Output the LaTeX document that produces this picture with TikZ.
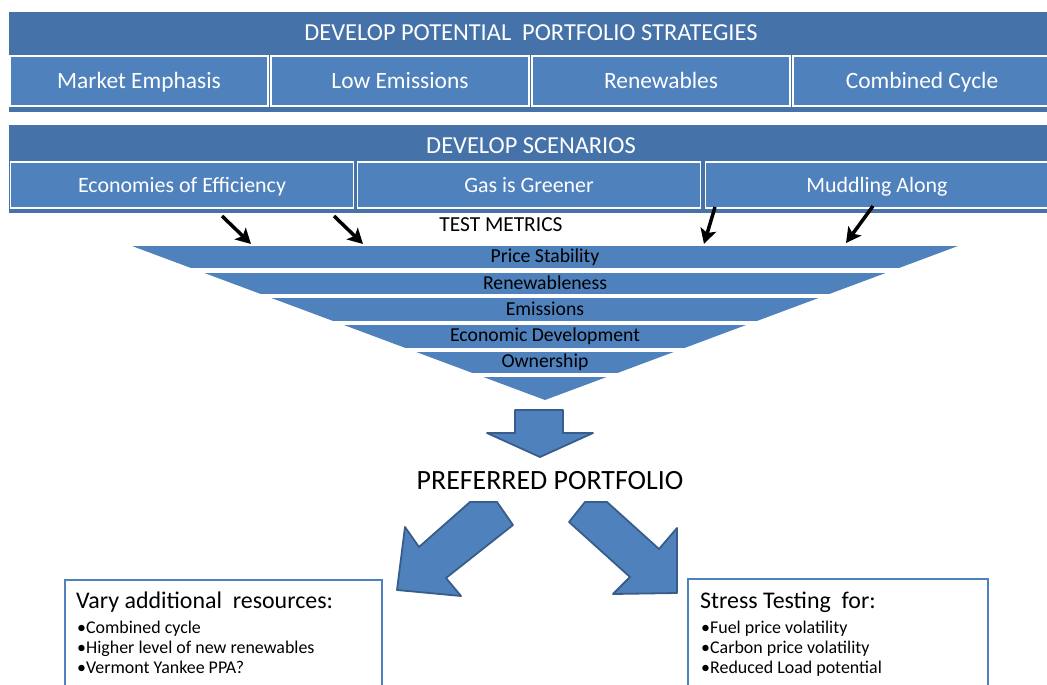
\documentclass[tikz,border=0pt]{standalone}
\usepackage{fontspec}
\setmainfont{Carlito}
\usepackage{tikz}
\usetikzlibrary{arrows.meta}
\definecolor{HdrBlue}{RGB}{70,114,170}
\definecolor{BoxBlue}{RGB}{79,129,189}
\definecolor{EdgeBlue}{RGB}{56,93,138}

\begin{document}
\begin{tikzpicture}[>={Stealth[length=15bp,width=16bp,inset=3.5bp]},
	hdr/.style={text=white,inner sep=0pt,font=\fontsize{24.5}{29}\selectfont},
	strat/.style={draw=white,line width=1.5bp,fill=BoxBlue,text=white,inner sep=0pt,
		text height=17bp,text depth=3bp,
		minimum width=258bp,minimum height=50bp,font=\fontsize{23.5}{28}\selectfont},
	scen/.style={strat,minimum width=343bp,minimum height=46bp,font=\fontsize{22}{26}\selectfont},
	metric/.style={inner sep=0pt,font=\fontsize{19.8}{23}\selectfont},
	feed/.style={->,line width=3.5bp},
	fat/.style={fill=BoxBlue,draw=EdgeBlue,line width=1.8bp,line join=round},
	outbox/.style={draw=BoxBlue,line width=2.2bp},
	boxhead/.style={anchor=base west,inner sep=0pt,font=\fontsize{24}{28}\selectfont},
	bullet/.style={anchor=base west,inner sep=0pt,font=\fontsize{18}{21}\selectfont}]
	\useasboundingbox (0bp,0bp) rectangle (1047bp,-685bp);
	\clip (0bp,0bp) rectangle (1047bp,-685bp);

	\fill[HdrBlue] (9bp,-12bp) rectangle (1060bp,-112bp);
	\node[hdr]   (PPS) at (531bp,-33bp)  {DEVELOP POTENTIAL\hspace{0.45em}PORTFOLIO STRATEGIES};
	\node[strat] (ME)  at (139bp,-81bp)  {Market Emphasis};
	\node[strat] (LE)  at (400bp,-81bp)  {Low Emissions};
	\node[strat] (RE)  at (661bp,-81bp)  {Renewables};
	\node[strat] (CC)  at (922bp,-81bp)  {Combined Cycle};

	\fill[HdrBlue] (9bp,-125bp) rectangle (1060bp,-213bp);
	\node[hdr]   (DS)  at (531bp,-146bp) {DEVELOP SCENARIOS};
	\node[scen]  (EoE) at (182bp,-185bp) {Economies of Efficiency};
	\node[scen]  (GiG) at (529bp,-185bp) {Gas is Greener};
	\node[scen]  (MA)  at (877bp,-185bp) {Muddling Along};

	\node[metric,font=\fontsize{21.5}{25}\selectfont] (TM) at (501bp,-225bp) {TEST METRICS};

	\fill[BoxBlue] (132bp,-246bp) -- (958bp,-246bp) -- (545bp,-400bp) -- cycle;
	\fill[white] (100bp,-268bp) rectangle (1000bp,-273bp);
	\fill[white] (100bp,-294bp) rectangle (1000bp,-298bp);
	\fill[white] (100bp,-321bp) rectangle (1000bp,-325bp);
	\fill[white] (100bp,-348bp) rectangle (1000bp,-352bp);
	\fill[white] (100bp,-373bp) rectangle (1000bp,-377bp);
	\node[metric] (PS) at (545bp,-257bp) {Price Stability};
	\node[metric] (RN) at (545bp,-283bp) {Renewableness};
	\node[metric] (EM) at (545bp,-309bp) {Emissions};
	\node[metric] (ED) at (545bp,-336bp) {Economic Development};
	\node[metric] (OW) at (545bp,-362bp) {Ownership};

	\coordinate (F1a) at (222bp,-216bp);
	\coordinate (F1b) at (251bp,-244bp);
	\coordinate (F2a) at (334bp,-216bp);
	\coordinate (F2b) at (363bp,-244bp);
	\coordinate (F3a) at (715bp,-207bp);
	\coordinate (F3b) at (704bp,-244bp);
	\coordinate (F4a) at (873bp,-206bp);
	\coordinate (F4b) at (846bp,-243bp);
	\draw[feed] (F1a) -- (F1b);
	\draw[feed] (F2a) -- (F2b);
	\draw[feed] (F3a) -- (F3b);
	\draw[feed] (F4a) -- (F4b);

	\draw[fat] (515bp,-410bp) -- (563bp,-410bp) -- (563bp,-433bp) -- (593bp,-433bp)
		-- (540bp,-457bp) -- (487bp,-433bp) -- (515bp,-433bp) -- cycle;
	\node[inner sep=0pt,font=\fontsize{28}{33}\selectfont] (PP) at (550bp,-481bp) {PREFERRED PORTFOLIO};
	\draw[fat] (470bp,-502bp) -- (497bp,-502bp) -- (513bp,-525bp) -- (446bp,-578bp)
		-- (461bp,-596bp) -- (397bp,-590bp) -- (405bp,-527bp) -- (419bp,-547bp) -- cycle;
	\draw[fat] (569bp,-522bp) -- (585bp,-502bp) -- (607bp,-502bp) -- (659bp,-549bp)
		-- (677bp,-528bp) -- (677bp,-593bp) -- (613bp,-594bp) -- (630bp,-577bp) -- cycle;

	\draw[outbox] (65bp,-580bp) rectangle (382bp,-720bp);
	\node[boxhead] (VAR) at (76bp,-608bp) {Vary additional\ \ resources:};
	\node[bullet]  (V1)  at (77bp,-633.5bp) {•Combined cycle};
	\node[bullet]  (V2)  at (77bp,-653.5bp) {•Higher level of new renewables};
	\node[bullet]  (V3)  at (77bp,-673bp)   {•Vermont Yankee PPA?};

	\draw[outbox] (688bp,-579bp) rectangle (988bp,-720bp);
	\node[boxhead] (STR) at (700bp,-608bp) {Stress Testing\ \ for:};
	\node[bullet]  (S1)  at (701bp,-633.5bp) {•Fuel price volatility};
	\node[bullet]  (S2)  at (701bp,-653.5bp) {•Carbon price volatility};
	\node[bullet]  (S3)  at (701bp,-673bp)   {•Reduced Load potential};
\end{tikzpicture}
\end{document}
